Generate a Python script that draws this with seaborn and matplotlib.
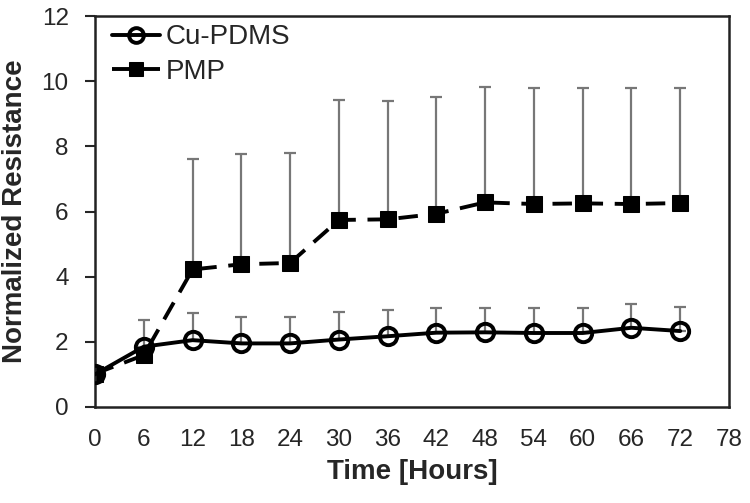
import numpy as np
import matplotlib
matplotlib.use("Agg")
import matplotlib.pyplot as plt
import seaborn as sns

# data
hours = [0, 6, 12, 18, 24, 30, 36, 42, 48, 54, 60, 66, 72]

cu_pdms = [1.0, 1.85, 2.05, 1.95, 1.95, 2.07, 2.17, 2.28, 2.29, 2.27, 2.27, 2.43, 2.33]
cu_pdms_top = [1.0, 2.66, 2.87, 2.76, 2.76, 2.92, 2.97, 3.05, 3.05, 3.05, 3.03, 3.15, 3.08]

pmp = [1.02, 1.59, 4.22, 4.38, 4.42, 5.74, 5.76, 5.93, 6.28, 6.23, 6.25, 6.23, 6.26]
pmp_top = [1.02, 1.59, 7.62, 7.76, 7.81, 9.42, 9.40, 9.52, 9.83, 9.78, 9.80, 9.78, 9.80]

sns.set_theme(style="white")
plt.rcParams['font.family'] = ['Liberation Sans', 'DejaVu Sans']

fig = plt.figure(figsize=(7.5, 5.03), dpi=100)
ax = fig.add_axes([0.1267, 0.191, 0.8453, 0.777])

# error bars (upper only, thin gray)
cu_err = np.array(cu_pdms_top) - np.array(cu_pdms)
pmp_err = np.array(pmp_top) - np.array(pmp)
ax.errorbar(hours, pmp, yerr=[np.zeros(len(hours)), pmp_err], fmt='none',
            ecolor='#777777', elinewidth=1.6, capsize=4, capthick=1.6, zorder=1)
ax.errorbar(hours, cu_pdms, yerr=[np.zeros(len(hours)), cu_err], fmt='none',
            ecolor='#777777', elinewidth=1.6, capsize=4, capthick=1.6, zorder=1)

sns.lineplot(x=hours, y=cu_pdms, ax=ax, color='black', linewidth=2.8,
             marker='o', markersize=12.5, markerfacecolor='none',
             markeredgecolor='black', markeredgewidth=2.8,
             label='Cu-PDMS', zorder=3)
sns.lineplot(x=hours, y=pmp, ax=ax, color='black', linewidth=2.8,
             marker='s', markersize=11.5, markerfacecolor='black',
             markeredgecolor='black', label='PMP', zorder=2)
ax.lines[-1].set_dashes([5, 3])

ax.set_xlim(0, 78)
ax.set_ylim(0, 12)
ax.set_xticks(range(0, 79, 6))
ax.set_yticks(range(0, 13, 2))
ax.tick_params(axis='x', length=0, pad=16, labelsize=17.5)
ax.tick_params(axis='y', length=7, width=1.5, direction='out', left=True,
               pad=12, labelsize=17.5)
for s in ax.spines.values():
    s.set_color('#222222')
    s.set_linewidth(1.8)

ax.set_xlabel('Time [Hours]', fontsize=20, fontweight='bold', labelpad=6)
ax.set_ylabel('Normalized Resistance', fontsize=20, fontweight='bold', labelpad=10)

leg = ax.legend(loc='upper left', bbox_to_anchor=(0.01, 1.007), frameon=False,
                fontsize=20, handlelength=1.7, handletextpad=0.2,
                borderaxespad=0, borderpad=0.4, labelspacing=0.3,
                markerscale=0.85)

fig.savefig('out.png', dpi=100)
